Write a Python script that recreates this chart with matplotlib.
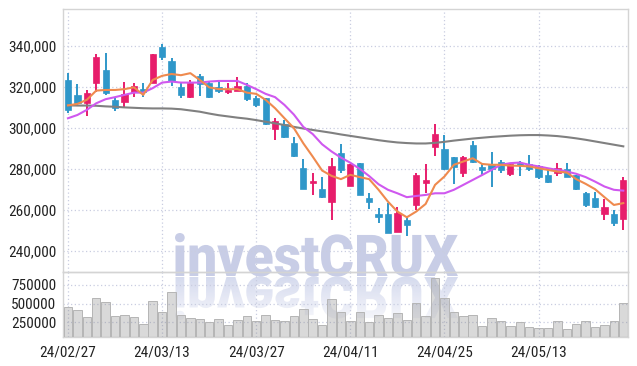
import matplotlib
matplotlib.use('Agg')
import matplotlib.pyplot as plt
import numpy as np
from matplotlib import font_manager
from matplotlib.font_manager import FontProperties
from matplotlib.textpath import TextPath
from matplotlib.patches import PathPatch
from matplotlib.transforms import Affine2D
from matplotlib.colors import to_rgb

# ---------------- data ----------------
opens = [323400, 316100, 312000, 321800, 328300, 313700, 312800, 317700, 319200, 322100,
         339700, 332800, 320100, 315300, 325400, 321800, 319900, 317600, 318200, 320500,
         314500, 314500, 299500, 302000, 292800, 280300, 273000, 270200, 264000, 287700,
         271700, 283100, 265700, 258000, 258000, 249400, 255100, 262400, 273300, 290900,
         289600, 285700, 278200, 291700, 280800, 282000, 283600, 277600, 283100, 282400,
         281500, 277100, 278200, 279900, 277100, 268100, 265700, 258000, 258000, 255500]
highs = [326800, 321300, 318500, 336100, 336400, 315300, 322600, 322100, 322100, 336100,
         341000, 334000, 321800, 323400, 326300, 323100, 323400, 322100, 325000, 321800,
         315600, 314500, 305000, 304000, 295500, 284700, 277900, 276000, 285200, 292200,
         282400, 283100, 268100, 260800, 263300, 261300, 257100, 277900, 282400, 302000,
         296600, 285700, 286300, 293800, 282800, 288000, 284200, 282800, 284000, 286800,
         282000, 280300, 282800, 282800, 277100, 268900, 268900, 265200, 260000, 276000]
lows = [307300, 310700, 305900, 317700, 316100, 308400, 310400, 315300, 315300, 321800,
        333200, 320500, 314500, 314500, 315600, 314500, 317200, 316600, 317900, 313200,
        310100, 301500, 294100, 294900, 286000, 270200, 267300, 265700, 255100, 277900,
        271700, 267300, 260300, 253500, 248600, 249400, 247300, 260000, 268100, 286300,
        279500, 272700, 276200, 282800, 277100, 271400, 278200, 276600, 276600, 279200,
        275000, 273300, 276600, 275900, 269700, 261600, 260800, 255100, 252200, 250200]
closes = [308800, 312000, 317200, 334800, 316900, 309600, 316600, 320500, 317300, 336100,
          334500, 323100, 316100, 321800, 321500, 315300, 318200, 318500, 320500, 314000,
          311200, 302000, 303400, 295800, 286300, 270200, 274300, 266500, 281500, 279500,
          282400, 267300, 264000, 256700, 248600, 258400, 252700, 277100, 274600, 297100,
          279900, 280800, 285700, 283600, 279500, 279900, 279500, 282400, 282000, 279900,
          276000, 273800, 280300, 276200, 270100, 262400, 261600, 261300, 253800, 274600]
ma5 = [311000, 311700, 313700, 318200, 318500, 318500, 318900, 319800, 316100, 323400,
       325400, 326300, 325700, 326700, 323400, 319800, 318900, 318900, 318900, 317200,
       316600, 313700, 309600, 304700, 299900, 292500, 286000, 279200, 276600, 275000,
       277100, 276000, 275000, 269800, 264000, 259200, 256400, 259200, 262900, 272200,
       276300, 282000, 283600, 285200, 282400, 282000, 282000, 281600, 281500, 281200,
       280300, 279500, 278700, 278200, 275000, 272700, 270100, 266200, 262400, 263300]
ma10 = [304700, 306300, 308800, 312000, 314000, 315000, 316100, 317200, 317200, 319400,
        322100, 322600, 322100, 322100, 322100, 322600, 322900, 322900, 322900, 321000,
        318900, 316600, 315000, 311200, 306500, 300500, 297000, 292000, 288500, 285500,
        283000, 280000, 276500, 272500, 269800, 268100, 266200, 266800, 267300, 268100,
        268100, 269800, 272200, 274600, 277000, 279500, 282000, 282800, 283100, 282000,
        281200, 280300, 279500, 278700, 277600, 276000, 273800, 271400, 269800, 269400]
ma60 = [311000, 310900, 310900, 310800, 310500, 310300, 310000, 309800, 309600, 309500,
        309500, 309400, 309100, 308500, 307900, 307000, 306200, 305600, 305000, 304500,
        303800, 303000, 302200, 301400, 300500, 299700, 299000, 298300, 297600, 296800,
        296100, 295400, 294700, 294000, 293400, 292900, 292600, 292400, 292400, 292700,
        293200, 293800, 294300, 294800, 295200, 295600, 295900, 296200, 296400, 296500,
        296500, 296300, 296000, 295500, 294900, 294200, 293400, 292600, 291800, 291000]
volume = [451000, 411000, 317000, 571600, 518000, 330000, 344000, 317000, 223000, 531000,
          384000, 652000, 344000, 303600, 290000, 254000, 290000, 210000, 276800, 330000,
          263400, 344000, 276800, 263400, 330000, 424000, 290000, 210000, 558000, 384000,
          263000, 384000, 254000, 344000, 303600, 370000, 277000, 504600, 330000, 839600,
          571600, 384000, 330000, 344000, 196000, 303600, 263400, 196000, 250000, 183000,
          169600, 169600, 263400, 156000, 223000, 263400, 183000, 210000, 263400, 504600]
tick_labels = ['24/02/27', '24/03/13', '24/03/27', '24/04/11', '24/04/25', '24/05/13']
price_ticks = [240000, 260000, 280000, 300000, 320000, 340000]
volume_ticks = [250000, 500000, 750000]

# ---------------- style ----------------
UP = '#e71d6b'
DOWN = '#2f97c9'
GRID = '#c9cde0'
SPINE = '#d4d4d4'
names = {f.name for f in font_manager.fontManager.ttflist}
tick_font = 'DejaVu Sans'
for cand in ['Liberation Sans Narrow', 'Roboto Condensed', 'Open Sans Condensed', 'DejaVu Sans']:
    if cand in names:
        tick_font = cand
        break
wm_family = 'Roboto' if 'Roboto' in names else 'DejaVu Sans'

W, H = 637, 366
fig = plt.figure(figsize=(W / 100, H / 100), dpi=100)
fig.patch.set_facecolor('white')

# watermark layer (behind everything)
wax = fig.add_axes([0, 0, 1, 1], zorder=-1)
wax.set_xlim(0, W)
wax.set_ylim(0, H)
wax.axis('off')
fp = FontProperties(family=wm_family, weight='black')
tp = TextPath((0, 0), 'investCRUX', size=100, prop=fp)
ext = tp.get_extents()
x0, x1 = 175, 458
base = H - 276
hgt = 43
sx = (x1 - x0) / ext.width
sy = hgt / ext.y1
main_tr = Affine2D().translate(-ext.x0, 0).scale(sx, sy).translate(x0, base)
wax.add_patch(PathPatch(main_tr.transform_path(tp), facecolor='#c8cde6', edgecolor='none'))
refl_tr = Affine2D().translate(-ext.x0, 0).scale(sx, -sy).translate(x0, base - 1)
refl_patch = PathPatch(refl_tr.transform_path(tp), facecolor='none', edgecolor='none')
wax.add_patch(refl_patch)
rc = to_rgb('#d5daee')
grad = np.zeros((64, 1, 4))
grad[:, 0, 0], grad[:, 0, 1], grad[:, 0, 2] = rc
grad[:, 0, 3] = np.linspace(1.0, 0.2, 64)
im = wax.imshow(grad, extent=(x0, x1, base - hgt - 2, base), aspect='auto', origin='upper')
im.set_clip_path(refl_patch)

L, R = 63, 628
ax = fig.add_axes([L / W, 1 - 272 / H, (R - L) / W, (272 - 9) / H])
axv = fig.add_axes([L / W, 1 - 337 / H, (R - L) / W, (337 - 272) / H], sharex=ax)
for a in (ax, axv):
    a.set_facecolor('none')
    for s in a.spines.values():
        s.set_color(SPINE)
        s.set_linewidth(1.0)
    a.tick_params(length=0, labelsize=11, colors='#222222', pad=5)
    a.grid(True, color=GRID, linestyle=(0, (1, 2)), linewidth=0.9)
    a.set_axisbelow(True)

x = np.arange(len(closes))
o = np.array(opens); c = np.array(closes); h = np.array(highs); lo = np.array(lows)
colors = [UP if cc >= oo else DOWN for oo, cc in zip(o, c)]
ax.vlines(x, lo, h, colors=colors, linewidth=1.4, zorder=3)
bottoms = np.minimum(o, c)
heights = np.maximum(np.abs(c - o), 700)
ax.bar(x, heights, bottom=bottoms, width=0.66, color=colors, edgecolor=colors,
       linewidth=0.5, zorder=4)
ax.plot(x, ma60, color='#808080', linewidth=1.5, zorder=5)
ax.plot(x, ma10, color='#cf58ef', linewidth=1.5, zorder=5)
ax.plot(x, ma5, color='#ef8a4e', linewidth=1.5, zorder=6)

ax.set_xlim(-0.53, len(closes) - 0.5)
ax.set_ylim(229700, 358000)
ax.set_yticks(price_ticks)
ax.set_yticklabels([f'{v:,}' for v in price_ticks], family=tick_font)
ax.set_xticks(range(0, len(closes), 10))
ax.tick_params(axis='x', labelbottom=False)

axv.bar(x, volume, width=0.9, color=(0.55, 0.55, 0.55, 0.33),
        edgecolor='#b5b5b5', linewidth=0.7, zorder=3)
axv.set_ylim(53000, 924000)
axv.set_yticks(volume_ticks)
axv.set_yticklabels([str(v) for v in volume_ticks], family=tick_font)
axv.set_xticks(range(0, len(closes), 10))
axv.set_xticklabels(tick_labels, family=tick_font)
axv.tick_params(axis='x', pad=6)

fig.savefig('out.png', dpi=100, facecolor='white')
